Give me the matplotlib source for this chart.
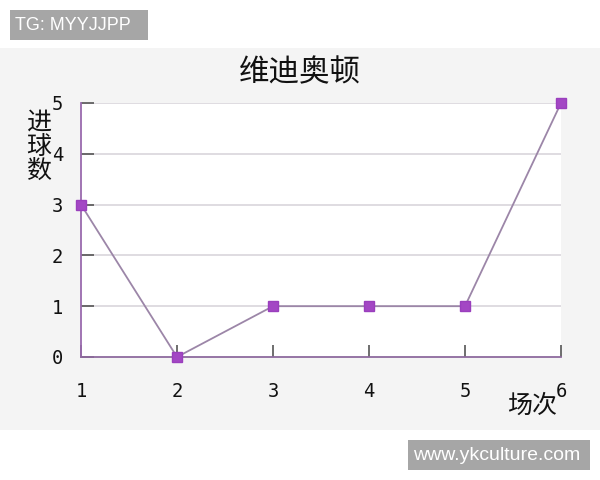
import matplotlib
matplotlib.use("Agg")
import matplotlib.pyplot as plt
from matplotlib.patches import Rectangle

plt.rcParams['font.family'] = ['Noto Sans CJK SC', 'DejaVu Sans']

rounds = [1, 2, 3, 4, 5, 6]
goals = [3, 0, 1, 1, 1, 5]
title = "维迪奥顿"
ylabel = "进球数"
xlabel = "场次"

W, H = 600, 480
fig = plt.figure(figsize=(6, 4.8), dpi=100)
fig.patch.set_facecolor("white")


def box(x0, y0, x1, y1, color):
    fig.patches.append(Rectangle((x0 / W, 1 - y1 / H), (x1 - x0) / W, (y1 - y0) / H,
                                 transform=fig.transFigure, facecolor=color,
                                 edgecolor="none", zorder=-5))


# light grey chart panel + watermark boxes
box(0, 48, 600, 430, "#f4f4f4")
box(10, 10, 148, 40, "#a6a6a6")
box(408, 440, 590, 470, "#a6a6a6")

ax = fig.add_axes([81 / W, 123 / H, 480 / W, 254 / H])
ax.set_facecolor("white")
ax.set_xlim(1, 6)
ax.set_ylim(0, 5)

for y in range(1, 6):
    ax.axhline(y, color="#d9d6dc", lw=1.2, zorder=1)

ax.plot(rounds, goals, color="#9c86a8", lw=1.3, zorder=3, clip_on=False)
ax.plot(rounds, goals, ls="none", marker="s", ms=7, color="#a347c4",
        markeredgecolor="#9a3fbd", zorder=4, clip_on=False)

for s in ["top", "right"]:
    ax.spines[s].set_visible(False)
ax.spines["left"].set_color("#9a6aae")
ax.spines["bottom"].set_color("#8e6a9e")
ax.spines["left"].set_linewidth(1.3)
ax.spines["bottom"].set_linewidth(1.3)

ax.set_xticks(rounds)
ax.set_yticks(range(0, 6))
ax.tick_params(axis="both", direction="in", length=9, width=1.2, color="#555555",
               labelsize=13.5, labelcolor="#111111")
for lab in ax.get_xticklabels() + ax.get_yticklabels():
    lab.set_family("DejaVu Sans Mono")
ax.tick_params(axis="x", pad=18)
ax.tick_params(axis="y", pad=13)

fig.text(0.5, 1 - 73 / H, title, ha="center", va="center", fontsize=22, color="#111111")
fig.text(39 / W, 1 - 147 / H, "\n".join(ylabel), ha="center", va="center",
         fontsize=18, linespacing=0.9, color="#111111")
fig.text(532 / W, 1 - 406 / H, xlabel, ha="center", va="center", fontsize=18, color="#111111")

# watermark texts
fig.text(15 / W, 1 - 25 / H, "TG: MYYJJPP", ha="left", va="center", fontsize=13,
         color="white", family="Liberation Sans")
fig.text(413 / W, 1 - 455 / H, "www.ykculture.com", ha="left", va="center", fontsize=14,
         color="white", family="Liberation Sans")

fig.savefig("out.png", dpi=100)
